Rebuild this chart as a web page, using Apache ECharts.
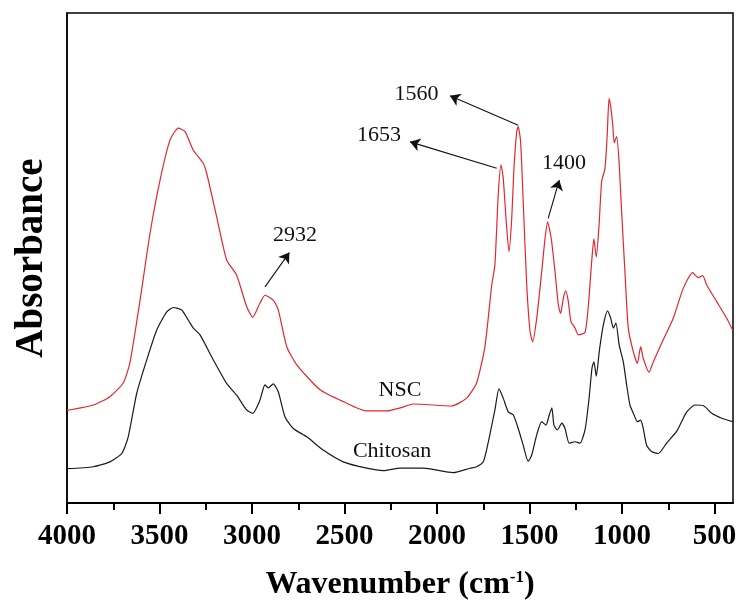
<!DOCTYPE html>
<html>
<head>
<meta charset="utf-8">
<script src="https://cdn.jsdelivr.net/npm/echarts@6/dist/echarts.min.js"></script>
<style>
  html, body { margin: 0; padding: 0; background: #fff; }
  #chart { width: 740px; height: 605px; }
</style>
</head>
<body>
<div id="chart"></div>
<script>
// FTIR spectra of chitosan and NSC (absorbance, arbitrary units, offset traces)
const nscWavenumber = [
  4000, 3858, 3768, 3696, 3660, 3605, 3551, 3497, 3443, 3398, 3362, 3317, 3263, 3245,
  3191, 3137, 3083, 3029, 2996, 2957, 2930, 2885, 2858, 2812, 2758, 2632, 2507, 2380,
  2272, 2200, 2128, 1921, 1840, 1786, 1741, 1704, 1687, 1669, 1654, 1642, 1627, 1611,
  1596, 1584, 1569, 1561, 1548, 1534, 1515, 1497, 1483, 1461, 1434, 1416, 1402, 1389,
  1380, 1362, 1344, 1332, 1317, 1304, 1290, 1276, 1254, 1236, 1200, 1182, 1164, 1152,
  1139, 1124, 1110, 1092, 1080, 1070, 1060, 1050, 1042, 1029, 1016, 1002, 984, 966,
  939, 917, 899, 885, 854, 831, 777, 723, 669, 618, 588, 564, 542, 488, 434, 402
];
const nscAbsorbance = [
  0.189, 0.200, 0.217, 0.245, 0.286, 0.414, 0.551, 0.659, 0.741, 0.765, 0.758, 0.720, 0.693, 0.673,
  0.584, 0.496, 0.465, 0.401, 0.379, 0.408, 0.424, 0.414, 0.394, 0.319, 0.282, 0.231, 0.207, 0.188,
  0.188, 0.194, 0.202, 0.198, 0.214, 0.245, 0.319, 0.445, 0.486, 0.629, 0.690, 0.663, 0.581, 0.513,
  0.581, 0.683, 0.758, 0.768, 0.737, 0.615, 0.445, 0.350, 0.329, 0.377, 0.472, 0.540, 0.574, 0.554,
  0.533, 0.472, 0.404, 0.387, 0.418, 0.433, 0.411, 0.370, 0.357, 0.343, 0.348, 0.402, 0.492, 0.539,
  0.502, 0.567, 0.656, 0.683, 0.751, 0.826, 0.806, 0.771, 0.735, 0.748, 0.697, 0.594, 0.471, 0.357,
  0.309, 0.285, 0.319, 0.295, 0.267, 0.288, 0.333, 0.377, 0.438, 0.470, 0.460, 0.464, 0.445, 0.411, 0.377, 0.353
];

const chitosanWavenumber = [
  4000, 3858, 3768, 3704, 3669, 3623, 3569, 3515, 3461, 3425, 3380, 3344, 3317, 3281,
  3209, 3137, 3083, 3029, 2996, 2957, 2930, 2912, 2885, 2858, 2822, 2777, 2704, 2615,
  2507, 2380, 2290, 2200, 2074, 1912, 1822, 1786, 1750, 1724, 1687, 1665, 1642, 1615,
  1588, 1561, 1534, 1507, 1488, 1461, 1434, 1411, 1393, 1379, 1368, 1350, 1325, 1308,
  1285, 1254, 1227, 1200, 1179, 1162, 1152, 1139, 1122, 1101, 1078, 1061, 1047, 1033,
  1015, 993, 975, 957, 935, 917, 899, 885, 867, 840, 804, 759, 705, 678, 650, 606,
  561, 515, 461, 402
];
const chitosanAbsorbance = [
  0.070, 0.074, 0.084, 0.101, 0.135, 0.224, 0.292, 0.353, 0.390, 0.399, 0.394, 0.373, 0.357, 0.343,
  0.292, 0.244, 0.220, 0.190, 0.183, 0.210, 0.241, 0.235, 0.243, 0.227, 0.176, 0.152, 0.135, 0.108,
  0.084, 0.071, 0.066, 0.071, 0.071, 0.062, 0.071, 0.074, 0.084, 0.122, 0.190, 0.233, 0.214, 0.186,
  0.180, 0.152, 0.118, 0.085, 0.098, 0.139, 0.166, 0.159, 0.180, 0.194, 0.159, 0.149, 0.163, 0.152,
  0.122, 0.125, 0.122, 0.149, 0.210, 0.276, 0.288, 0.259, 0.312, 0.363, 0.392, 0.377, 0.357, 0.367,
  0.322, 0.288, 0.241, 0.200, 0.180, 0.166, 0.169, 0.152, 0.118, 0.105, 0.101, 0.122, 0.146, 0.166, 0.186, 0.200,
  0.199, 0.183, 0.173, 0.166
];

// Axis ticks
const majorTicks = [4000, 3500, 3000, 2500, 2000, 1500, 1000, 500];
const minorTicks = [3750, 3250, 2750, 2250, 1750, 1250, 750];

// Peak assignments: label, arrow tail (on the band), arrow head, text anchor
const peakLabels = ['2932', '1560', '1653', '1400'];
const peakTail = [[2930, 0.441], [1561, 0.771], [1677, 0.683], [1399, 0.581]];
const peakHead = [[2798, 0.511], [1930, 0.831], [2146, 0.737], [1339, 0.659]];
const peakText = [[2768, 0.546], [2111, 0.835], [2314, 0.751], [1314, 0.694]];

// Trace names written next to each curve
const traceNames = ['NSC', 'Chitosan'];
const traceNameAt = [[2200, 0.231], [2243, 0.106]];

const serif = '"Liberation Serif", "Times New Roman", serif';
const pairs = (xs, ys) => xs.map((x, i) => [x, ys[i]]);
const textMark = (text, coord) => ({
  coord: coord, symbol: 'circle', symbolSize: 0,
  label: { show: true, position: 'inside', formatter: text,
           fontFamily: serif, fontSize: 22, color: '#111' }
});

const xCommon = {
  type: 'value', min: 400, max: 4000, inverse: true, position: 'bottom',
  splitLine: { show: false }
};

const chart = echarts.init(document.getElementById('chart'));
chart.setOption({
  animation: false,
  backgroundColor: '#fff',
  grid: { left: 67, right: 7, top: 13, bottom: 102, show: true,
          outerBoundsMode: 'none', containLabel: false,
          borderColor: '#000', borderWidth: 1.5 },
  xAxis: [
    Object.assign({}, xCommon, {
      name: '{t|Wavenumber (cm}{s|-1}{t|)}',
      nameLocation: 'middle',
      nameGap: 66,
      nameTextStyle: {
        rich: {
          t: { fontFamily: serif, fontWeight: 'bold', fontSize: 32, color: '#000' },
          s: { fontFamily: serif, fontWeight: 'bold', fontSize: 17, color: '#000',
               verticalAlign: 'top', padding: [0, 0, 10, 0] }
        }
      },
      axisLine: { lineStyle: { color: '#000', width: 2 } },
      axisTick: { customValues: majorTicks, length: 11, lineStyle: { color: '#000', width: 2 } },
      axisLabel: { customValues: majorTicks, margin: 19, fontFamily: serif, fontWeight: 'bold',
                   fontSize: 29, color: '#000', formatter: v => String(v) }
    }),
    Object.assign({}, xCommon, {
      axisLine: { show: false },
      axisTick: { customValues: minorTicks, length: 7, lineStyle: { color: '#000', width: 2 } },
      axisLabel: { show: false }
    })
  ],
  yAxis: {
    type: 'value', min: 0, max: 1,
    name: 'Absorbance', nameLocation: 'middle', nameRotate: 90, nameGap: 16,
    nameTextStyle: { fontFamily: serif, fontWeight: 'bold', fontSize: 39, color: '#000' },
    axisLine: { show: true, lineStyle: { color: '#000', width: 1.5 } },
    axisTick: { show: false }, axisLabel: { show: false }, splitLine: { show: false }
  },
  series: [
    {
      name: traceNames[0], type: 'line', xAxisIndex: 0, showSymbol: false, smooth: 0.2,
      data: pairs(nscWavenumber, nscAbsorbance),
      lineStyle: { color: '#e3262d', width: 1.2 },
      markPoint: {
        silent: true,
        data: [textMark(traceNames[0], traceNameAt[0])]
          .concat(peakLabels.map((t, i) => textMark(t, peakText[i])))
      },
      markLine: {
        silent: true, symbol: ['none', 'arrow'], symbolSize: 10,
        label: { show: false },
        lineStyle: { color: '#111', width: 1.1, type: 'solid' },
        data: peakLabels.map((t, i) => [{ coord: peakTail[i] }, { coord: peakHead[i] }])
      }
    },
    {
      name: traceNames[1], type: 'line', xAxisIndex: 0, showSymbol: false, smooth: 0.2,
      data: pairs(chitosanWavenumber, chitosanAbsorbance),
      lineStyle: { color: '#1a1a1a', width: 1.2 },
      markPoint: {
        silent: true,
        data: [textMark(traceNames[1], traceNameAt[1])]
      }
    }
  ]
});
</script>
</body>
</html>
